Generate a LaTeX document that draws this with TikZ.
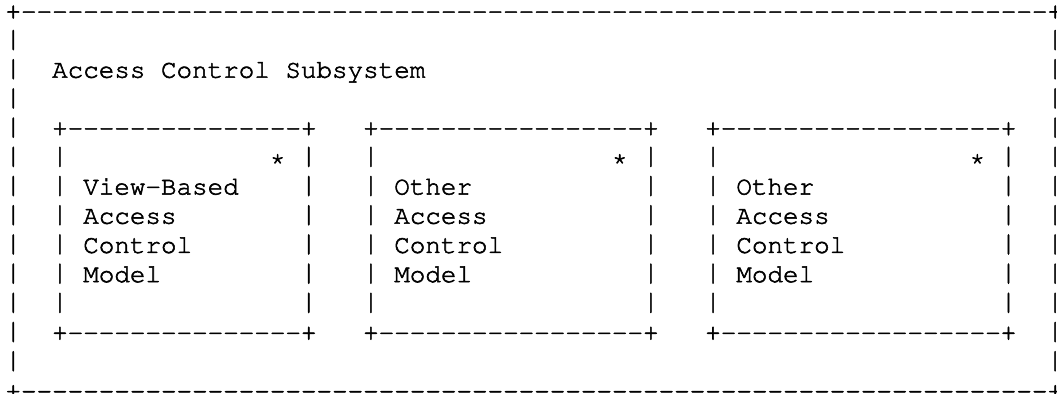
\documentclass[tikz,border=0pt]{standalone}
\usepackage[T1,TU]{fontenc}
\usepackage{graphicx}
\ExplSyntaxOn
\cs_new:Npn \dashrun #1 {\prg_replicate:nn{#1}{-\kern0pt}}
\ExplSyntaxOff
\newcommand\asciifont{\fontencoding{T1}\fontfamily{pcr}\fontseries{m}\fontshape{n}\fontsize{19.44pt}{21.9pt}\selectfont}
\newcommand\vbar{\raisebox{-3.75pt}{\resizebox*{\width}{20.25pt}{\raisebox{\depth}{|}}}}
\tikzset{asc/.style={anchor=base west, inner sep=0pt, outer sep=0pt, font=\asciifont, text=black}}
\begin{document}
\special{pdf:literal direct 2 Tr 0.5 w}%
\begin{tikzpicture}[x=11.6625pt, y=-21.9pt]
\useasboundingbox (-0.3537,-0.662) rectangle (67.62,12.831);
% outer frame
\node[asc] (top) at (0,0) {+\dashrun{66}+};
\node[asc] (bot) at (0,13) {+\dashrun{66}+};
\foreach \r in {1,...,12}{
  \node[asc] (lw\r) at (0,\r) {\vbar};
  \node[asc] (rw\r) at (67,\r) {\vbar};
}
\node[asc] (title) at (3,2) {Access Control Subsystem};
% inner boxes
\foreach \c/\n/\nm/\s in {3/15/a/17, 23/17/b/39, 45/18/c/62}{
  \node[asc] (\nm top) at (\c,4) {+\dashrun{\n}+};
  \node[asc] (\nm bot) at (\c,11) {+\dashrun{\n}+};
  \foreach \r in {5,...,10}{
    \node[asc] (\nm l\r) at (\c,\r) {\vbar};
    \node[asc] (\nm r\r) at (\c+\n+1,\r) {\vbar};
  }
  \node[asc] (\nm star) at (\s,5) {*};
}
\node[asc] (a1) at (5,6) {View-Based};
\node[asc] (a2) at (5,7) {Access};
\node[asc] (a3) at (5,8) {Control};
\node[asc] (a4) at (5,9) {Model};
\node[asc] (b1) at (25,6) {Other};
\node[asc] (b2) at (25,7) {Access};
\node[asc] (b3) at (25,8) {Control};
\node[asc] (b4) at (25,9) {Model};
\node[asc] (c1) at (47,6) {Other};
\node[asc] (c2) at (47,7) {Access};
\node[asc] (c3) at (47,8) {Control};
\node[asc] (c4) at (47,9) {Model};
\end{tikzpicture}
\end{document}
